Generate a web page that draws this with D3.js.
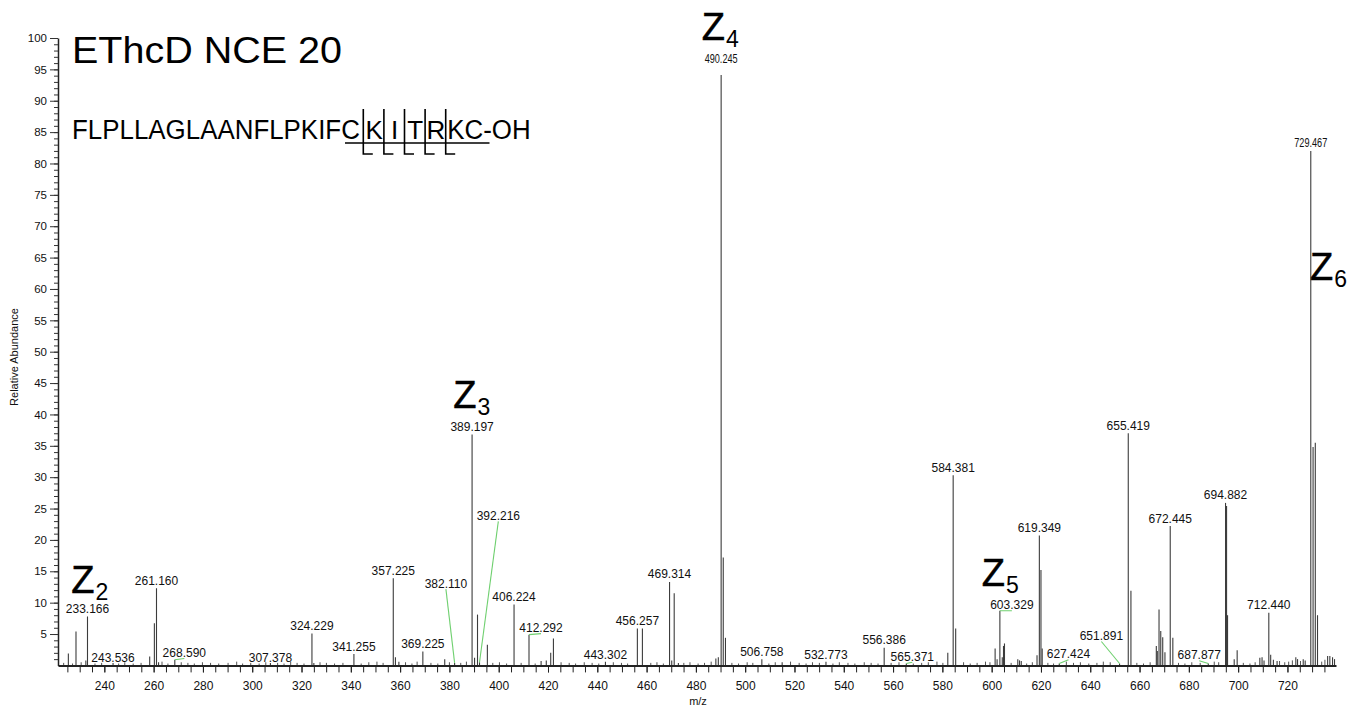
<!DOCTYPE html>
<html><head><meta charset="utf-8">
<script src="https://cdn.jsdelivr.net/npm/d3@7"></script>
<style>
body{margin:0;background:#fff}
svg{display:block}
text{font-family:"Liberation Sans", Arial, Helvetica, sans-serif}
</style>
</head><body>
<svg id="chart" width="1350" height="710"></svg>
<script>
// ---------------- DATA ----------------
const titleText = "EThcD NCE 20";
const seqPrefix = "FLPLLAGLAANFLPKIFC";
const seqBoxed = ["K", "I", "T", "R"];
const seqSuffix = "KC-OH";
const xAxisTitle = "m/z";
const yAxisTitle = "Relative Abundance";
const xTickLabels = [240, 260, 280, 300, 320, 340, 360, 380, 400, 420, 440, 460, 480, 500, 520, 540, 560, 580, 600, 620, 640, 660, 680, 700, 720];
const yTickLabels = [5, 10, 15, 20, 25, 30, 35, 40, 45, 50, 55, 60, 65, 70, 75, 80, 85, 90, 95, 100];

// main peaks (m/z, relative abundance)
const peakMz = [225.4, 228.5, 232.5, 233.166, 243.536, 258.4, 260.3, 261.160, 262.0, 268.590, 307.378, 324.229, 325.0, 341.255,
  357.225, 358.1, 359.5, 369.225, 378.1, 382.110, 389.197, 390.2, 391.4, 392.216, 395.4, 406.224, 412.292, 417.2, 419.3, 421.1, 422.2,
  443.302, 456.257, 458.3, 469.314, 470.2, 471.2, 472.9, 488.1, 489.1, 490.245, 491.1, 492.0, 506.758, 515.0, 532.773, 556.386, 565.371,
  582.2, 584.381, 585.4, 601.4, 602.2, 603.329, 604.3, 604.8, 605.2, 610.6, 611.3, 612.0, 618.4, 619.349, 620.0, 620.5, 627.424, 651.891,
  655.419, 656.5, 666.8, 667.2, 667.9, 668.6, 669.4, 670.3, 672.445, 673.5, 687.877, 694.882, 695.3, 695.7, 698.4, 699.6,
  708.8, 709.7, 710.5, 712.440, 713.2, 714.3, 715.8, 723.4, 724.1, 726.4, 727.2, 729.467, 730.4, 731.3, 732.2, 736.3, 737.2, 738.3, 739.1];
const peakIntensity = [1.9, 5.4, 0.8, 7.8, 0.4, 1.4, 6.7, 12.3, 0.5, 0.9, 0.4, 5.1, 0.4, 1.8,
  13.9, 1.3, 0.6, 2.2, 1.0, 0.4, 36.8, 1.2, 8.1, 0.5, 3.3, 9.7, 4.9, 0.7, 0.8, 2.0, 4.3,
  0.6, 5.9, 5.9, 13.3, 0.8, 11.5, 0.4, 1.1, 1.3, 94.1, 17.2, 4.4, 1.0, 0.5, 0.6, 2.8, 0.3,
  2.0, 30.3, 5.9, 2.7, 1.0, 8.7, 1.3, 3.1, 3.5, 1.0, 0.8, 0.7, 1.6, 20.7, 15.2, 2.7, 0.3, 0.3,
  37.0, 11.9, 3.1, 2.3, 8.9, 5.5, 4.5, 2.1, 22.2, 4.4, 0.3, 25.9, 25.4, 8.0, 1.0, 2.4,
  1.2, 1.3, 0.8, 8.4, 1.7, 0.9, 0.7, 1.3, 1.0, 1.0, 0.8, 82.0, 34.8, 35.5, 8.0, 1.5, 1.5, 1.3, 1.0];

// low-level baseline peaks
const noiseMz = [223.5, 227.1, 230.6, 236.2, 238.9, 245.8, 248.3, 251.7, 254.9, 263.4, 265.8, 271.2, 273.9, 276.5, 279.8, 283.1, 286.4,
  290.2, 293.7, 296.1, 299.4, 302.8, 305.5, 310.3, 312.9, 315.6, 318.2, 321.0, 327.5, 330.1, 333.4, 336.8, 344.2, 347.3, 350.6, 353.1,
  362.2, 364.8, 366.9, 372.5, 375.3, 380.0, 384.6, 386.9, 397.6, 400.3, 403.2, 409.1, 414.8, 425.3, 428.6, 431.2, 434.7, 437.9, 440.6,
  446.5, 449.8, 452.3, 461.7, 464.2, 466.8, 475.1, 477.6, 480.9, 483.5, 486.2, 494.6, 497.3, 500.8, 503.1, 509.6, 512.2, 518.4, 521.9,
  524.7, 527.3, 530.1, 535.6, 538.2, 541.7, 544.5, 548.3, 551.1, 553.9, 559.2, 562.4, 568.2, 571.6, 574.3, 577.8, 580.2, 588.6, 591.3,
  594.1, 597.5, 599.3, 607.9, 614.2, 616.5, 622.8, 625.1, 630.3, 633.2, 636.0, 639.4, 642.7, 645.3, 648.1, 658.9, 661.6, 664.3, 675.8,
  678.4, 681.2, 684.6, 690.3, 692.1, 702.1, 704.8, 706.9, 716.8, 718.9, 720.5, 722.0, 725.3, 733.9, 735.2];
const noiseIntensity = [0.4, 0.3, 0.5, 0.3, 0.4, 0.3, 0.5, 0.3, 0.4, 0.6, 0.3, 0.5, 0.4, 0.3, 0.5, 0.4, 0.3,
  0.4, 0.6, 0.3, 0.4, 0.3, 0.5, 0.4, 0.3, 0.6, 0.4, 0.3, 0.5, 0.4, 0.3, 0.4, 0.3, 0.5, 0.6, 0.4,
  0.5, 0.3, 0.6, 0.4, 0.3, 0.5, 0.4, 0.6, 0.4, 0.5, 0.3, 0.4, 0.3, 0.5, 0.4, 0.3, 0.5, 0.4, 0.3,
  0.5, 0.4, 0.3, 0.4, 0.5, 0.3, 0.4, 0.5, 0.3, 0.4, 0.6, 0.4, 0.3, 0.5, 0.4, 0.3, 0.5, 0.6, 0.4,
  0.3, 0.5, 0.4, 0.3, 0.5, 0.4, 0.3, 0.5, 0.4, 0.3, 0.4, 0.5, 0.3, 0.4, 0.5, 0.6, 0.4, 0.5, 0.3,
  0.4, 0.6, 0.5, 0.4, 0.3, 0.5, 0.4, 0.3, 0.6, 0.4, 0.5, 0.3, 0.4, 0.6, 0.5, 0.4, 0.3, 0.5, 0.4,
  0.3, 0.5, 0.4, 0.6, 0.5, 0.4, 0.3, 0.5, 0.7, 0.5, 0.6, 0.8, 0.7, 0.6, 0.9];

// annotated peaks
const labelMz = ["233.166", "243.536", "261.160", "268.590", "307.378", "324.229", "341.255", "357.225", "369.225", "382.110",
  "389.197", "392.216", "406.224", "412.292", "443.302", "456.257", "469.314", "490.245", "506.758", "532.773", "556.386",
  "565.371", "584.381", "603.329", "619.349", "627.424", "651.891", "655.419", "672.445", "687.877", "694.882", "712.440", "729.467"];

// fragment ion annotations
const ionNames = ["2", "3", "4", "5", "6"];

// ---------------- LAYOUT ----------------
const W = 1350, H = 710;
const labelGap = 3.5;
// label offsets: dx in px, level = label baseline in abundance units (for leader-lined labels)
const labelLayout = {
  "243.536": {level: 0.6}, "268.590": {dx: 9.5, level: 1.34, leader: true}, "307.378": {level: 0.6},
  "382.110": {dx: -8.7, level: 12.4, leader: true}, "389.197": {gap: 3.7}, "392.216": {dx: 18.8, level: 23.2, leader: true},
  "412.292": {dx: 12, level: 5.3, leader: true}, "443.302": {level: 1.0}, "490.245": {level: 96.0, condensed: true},
  "532.773": {level: 1.0}, "565.371": {dx: 6, level: 0.75, leader: true}, "603.329": {dx: 12, level: 8.94, leader: true},
  "627.424": {dx: 9.2, level: 1.13, leader: true}, "651.891": {dx: -18.2, level: 4.05, leader: true},
  "687.877": {dx: -9, level: 0.97, leader: true}, "729.467": {condensed: true}
};
// ion label anchor (left of "Z", baseline) in data coordinates
const ionLayout = [
  {mz: 226.6, level: 11.6}, {mz: 381.6, level: 41.0}, {mz: 482.4, level: 99.7}, {mz: 596.0, level: 12.6}, {mz: 729.2, level: 61.4}
];

const svg = d3.select("#chart");
svg.append("rect").attr("width", W).attr("height", H).attr("fill", "#fff");

const x = d3.scaleLinear().domain([221.2, 739.7]).range([58, 1336]);
const y = d3.scaleLinear().domain([0, 100]).range([665.4, 38]);

// ---- peaks ----
const peaks = peakMz.map((m, i) => ({mz: m, v: peakIntensity[i]}));
const noise = noiseMz.map((m, i) => ({mz: m, v: noiseIntensity[i]}));

svg.append("g").selectAll("line").data(noise).join("line")
  .attr("x1", d => x(d.mz)).attr("x2", d => x(d.mz))
  .attr("y1", y(0)).attr("y2", d => y(d.v))
  .attr("stroke", "#555").attr("stroke-width", 1);

svg.append("g").selectAll("line").data(peaks).join("line")
  .attr("x1", d => x(d.mz)).attr("x2", d => x(d.mz))
  .attr("y1", y(0)).attr("y2", d => y(d.v))
  .attr("stroke", "#3c3c3c").attr("stroke-width", 1.1);

// ---- axes ----
const xMinor = d3.range(225, 740, 5);
const gx = svg.append("g").attr("transform", `translate(0,${y(0)})`);
gx.call(d3.axisBottom(x).tickValues(xMinor).tickSize(7).tickSizeOuter(0).tickFormat(""));
gx.select(".domain").attr("stroke", "#222").attr("stroke-width", 2);
gx.selectAll(".tick line").attr("stroke", "#222").attr("stroke-width", 1);
const gxl = svg.append("g").attr("transform", `translate(0,${y(0)})`);
gxl.call(d3.axisBottom(x).tickValues(xTickLabels).tickSize(7).tickSizeOuter(0).tickPadding(9).tickFormat(d3.format("d")));
gxl.select(".domain").remove();
gxl.selectAll(".tick line").attr("stroke", "#222");
gxl.selectAll(".tick text").attr("font-size", 12).attr("fill", "#111")
  .attr("font-family", "'Liberation Sans', Arial, sans-serif");

const yMinor = d3.range(1, 101, 1);
const gy = svg.append("g").attr("transform", `translate(${x.range()[0]},0)`);
gy.call(d3.axisLeft(y).tickValues(yMinor).tickSize(4).tickSizeOuter(0).tickFormat(""));
gy.select(".domain").attr("stroke", "#222").attr("stroke-width", 1.5);
gy.selectAll(".tick line").attr("stroke", "#333");
const gyl = svg.append("g").attr("transform", `translate(${x.range()[0]},0)`);
gyl.call(d3.axisLeft(y).tickValues(yTickLabels).tickSize(8).tickSizeOuter(0).tickPadding(3).tickFormat(d3.format("d")));
gyl.select(".domain").remove();
gyl.selectAll(".tick line").attr("stroke", "#333");
gyl.selectAll(".tick text").attr("font-size", 11.5).attr("fill", "#111")
  .attr("font-family", "'Liberation Sans', Arial, sans-serif");

svg.append("text").attr("x", 698).attr("y", 705).attr("text-anchor", "middle")
  .attr("font-size", 11).attr("fill", "#111").text(xAxisTitle);
svg.append("text").attr("transform", "translate(18,357) rotate(-90)").attr("text-anchor", "middle")
  .attr("font-size", 11).attr("fill", "#111").text(yAxisTitle);

// ---- peak labels ----
const gl = svg.append("g");
labelMz.forEach(s => {
  const mz = +s;
  const pk = peaks.reduce((a, b) => Math.abs(b.mz - mz) < Math.abs(a.mz - mz) ? b : a);
  const L = labelLayout[s] || {};
  const px = x(pk.mz), py = y(pk.v);
  const lx = px + (L.dx || 0);
  const ly = L.level !== undefined ? y(L.level) : py - (L.gap || labelGap);
  if (L.leader) {
    gl.append("line").attr("x1", px).attr("y1", py).attr("x2", lx).attr("y2", ly + 1.5)
      .attr("stroke", "#6fd06f").attr("stroke-width", 1.1);
  }
  const t = gl.append("text").attr("x", lx).attr("y", ly).attr("text-anchor", "middle")
    .attr("fill", "#111").text(s);
  if (L.condensed) {
    t.attr("font-size", 13).attr("textLength", 33).attr("lengthAdjust", "spacingAndGlyphs");
  } else {
    t.attr("font-size", 12);
  }
});

// ---- ion annotations ----
ionLayout.forEach((p, i) => {
  const g = svg.append("text").attr("x", x(p.mz)).attr("y", y(p.level)).attr("fill", "#000");
  g.append("tspan").attr("font-size", 38).attr("stroke", "#000").attr("stroke-width", 0.5).text("Z");
  g.append("tspan").attr("font-size", 23).attr("dx", 1).attr("dy", 7).text(ionNames[i]);
});

// ---- title and sequence ----
svg.append("text").attr("x", 72).attr("y", 63).attr("font-size", 37).attr("fill", "#000")
  .attr("textLength", 270).attr("lengthAdjust", "spacingAndGlyphs").text(titleText);

const seqX = 72, seqBase = 139, seqSize = 28, seqSquash = 0.925;
svg.append("g").attr("transform", `translate(${seqX},${seqBase}) scale(${seqSquash},1)`)
  .append("text").attr("x", 0).attr("y", 0).attr("font-size", seqSize).attr("fill", "#000").text(seqPrefix);
const cut0 = 363.3, boxW = 20.6;
seqBoxed.forEach((r, i) => {
  svg.append("text").attr("x", cut0 + boxW * (i + 0.5) + 0.5).attr("y", seqBase).attr("text-anchor", "middle")
    .attr("font-size", 26).attr("fill", "#000").text(r);
});
svg.append("g").attr("transform", `translate(${cut0 + boxW * seqBoxed.length + 1.5},${seqBase}) scale(${seqSquash},1)`)
  .append("text").attr("x", 0).attr("y", 0).attr("font-size", seqSize).attr("fill", "#000").text(seqSuffix);
const gs = svg.append("g").attr("stroke", "#000").attr("stroke-width", 1.6).attr("fill", "none");
gs.append("line").attr("x1", 345).attr("x2", 489.5).attr("y1", 143).attr("y2", 143);
for (let i = 0; i <= seqBoxed.length; i++) {
  const cx = cut0 + boxW * i;
  gs.append("path").attr("d", `M${cx},109 V154 H${cx + 9.5}`);
}
</script>
</body></html>
